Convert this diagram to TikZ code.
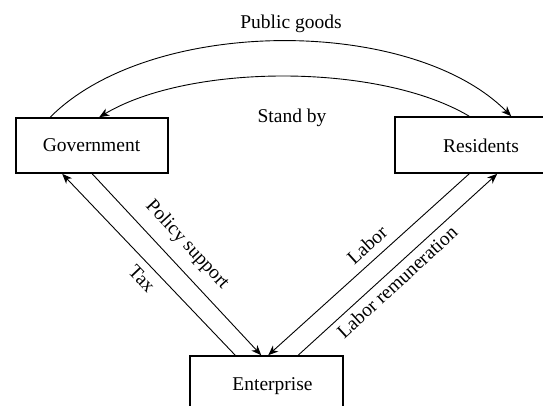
\documentclass[tikz,border=0pt]{standalone}
\usepackage{fontspec}
\setmainfont{Liberation Serif}
\usetikzlibrary{arrows.meta}
\begin{document}
\begin{tikzpicture}[x=1pt,y=-1pt,
  box/.style={draw, line width=1.6pt, inner sep=0pt},
  txt/.style={inner sep=0pt, font=\fontsize{19.5}{23}\selectfont},
  flow/.style={line width=0.9pt, -{Stealth[length=10pt,width=8pt,inset=3pt]}}]
\useasboundingbox (0,0) rectangle (543,405);
% boxes
\node[box, minimum width=152pt, minimum height=55pt] (gov) at (92,145.5) {};
\node[box, minimum width=172pt, minimum height=56pt] (res) at (481,145) {};
\node[box, minimum width=153pt, minimum height=70pt] (ent) at (266.5,391) {};
% box texts
\node[txt, anchor=base] (govt) at (91.5,151) {Government};
\node[txt, anchor=base] (rest) at (481,152) {Residents};
\node[txt, anchor=base] (entt) at (272.5,390) {Enterprise};
% curved flows
\draw[flow] ([xshift=35pt]gov.north west) .. controls (151,16) and (412,16) .. ([xshift=117pt]res.north west);
\draw[flow] ([xshift=75pt]res.north west) .. controls (380,63) and (190,63) .. ([xshift=84pt]gov.north west);
\node[txt, anchor=base] (pg) at (291,28) {Public goods};
\node[txt, anchor=base] (sb) at (292,122) {Stand by};
% diagonal flows
\draw[flow] ([xshift=46pt]ent.north west) -- ([xshift=47pt]gov.south west);
\draw[flow] ([xshift=77pt]gov.south west) -- ([xshift=72pt]ent.north west);
\draw[flow] ([xshift=75pt]res.south west) -- ([xshift=79pt]ent.north west);
\draw[flow] ([xshift=109pt]ent.north west) -- ([xshift=103pt]res.south west);
% diagonal labels
\node[txt, rotate=-47.3] (ps) at (187,245) {Policy support};
\node[txt, rotate=-46.3] (tax) at (142,279) {Tax};
\node[txt, rotate=42.3] (lab) at (367,245) {Labor};
\node[txt, rotate=42.6] (lr) at (397,282) {Labor remuneration};
\end{tikzpicture}
\end{document}
